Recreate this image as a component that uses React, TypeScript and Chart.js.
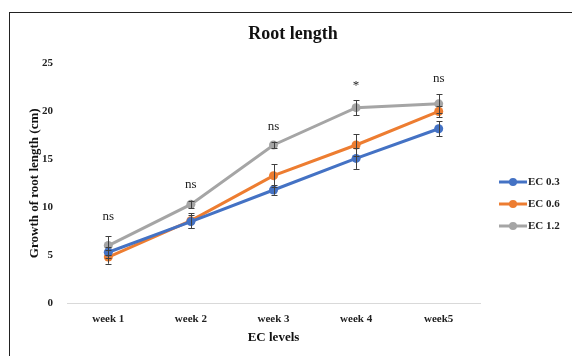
import React, { useEffect, useRef } from "react";
import { Chart, registerables } from "chart.js";

Chart.register(...registerables);

const categories = ["week 1", "week 2", "week 3", "week 4", "week5"];
const seriesNames = ["EC 0.3", "EC 0.6", "EC 1.2"];
const ec03 = [5.3, 8.5, 11.8, 15.1, 18.2];
const ec06 = [4.8, 8.6, 13.3, 16.5, 20.0];
const ec12 = [6.0, 10.3, 16.5, 20.4, 20.8];
const ec03Err = [0.6, 0.7, 0.5, 1.1, 0.8];
const ec06Err = [0.7, 0.8, 1.2, 1.1, 0.6];
const ec12Err = [0.95, 0.4, 0.35, 0.8, 1.0];
const sigLabels = ["ns", "ns", "ns", "*", "ns"];
const sigValues = [9.0, 12.4, 18.4, 22.7, 23.4];
const colors = ["#4472C4", "#ED7D31", "#A5A5A5"];
const yTicks = [0, 5, 10, 15, 20, 25];

const SERIF = "'Liberation Serif', 'Times New Roman', serif";

const errorBars = {
  id: "errorBars",
  afterDatasetsDraw(chart: any) {
    const ctx = chart.ctx;
    const ys = chart.scales.y;
    const errs = [ec03Err, ec06Err, ec12Err];
    ctx.save();
    ctx.strokeStyle = "#404040";
    ctx.lineWidth = 1;
    chart.data.datasets.forEach((ds: any, di: number) => {
      const meta = chart.getDatasetMeta(di);
      meta.data.forEach((pt: any, i: number) => {
        const v = ds.data[i];
        const e = errs[di][i];
        const x = Math.round(pt.x) + 0.5;
        const y1 = ys.getPixelForValue(v + e);
        const y2 = ys.getPixelForValue(v - e);
        ctx.beginPath();
        ctx.moveTo(x, y1);
        ctx.lineTo(x, y2);
        ctx.moveTo(x - 3, Math.round(y1) + 0.5);
        ctx.lineTo(x + 3, Math.round(y1) + 0.5);
        ctx.moveTo(x - 3, Math.round(y2) + 0.5);
        ctx.lineTo(x + 3, Math.round(y2) + 0.5);
        ctx.stroke();
      });
    });
    // significance labels
    const xs = chart.scales.x;
    ctx.fillStyle = "#222";
    ctx.font = `13px ${SERIF}`;
    ctx.textAlign = "center";
    ctx.textBaseline = "middle";
    sigLabels.forEach((t, i) => {
      ctx.fillText(t, xs.getPixelForValue(i), ys.getPixelForValue(sigValues[i]));
    });
    // legend
    const lx = 499;
    const rowY = [182, 204, 226];
    chart.data.datasets.forEach((ds: any, di: number) => {
      const y = rowY[di];
      ctx.strokeStyle = ds.borderColor;
      ctx.lineWidth = 3;
      ctx.beginPath();
      ctx.moveTo(lx, y);
      ctx.lineTo(lx + 28, y);
      ctx.stroke();
      ctx.fillStyle = ds.borderColor;
      ctx.beginPath();
      ctx.arc(lx + 14, y, 4, 0, Math.PI * 2);
      ctx.fill();
      ctx.fillStyle = "#222";
      ctx.font = `bold 11px ${SERIF}`;
      ctx.textAlign = "left";
      ctx.fillText(ds.label, lx + 29, y + 0.5);
    });
    ctx.restore();
  },
};

export default function App() {
  const ref = useRef<HTMLCanvasElement>(null);
  useEffect(() => {
    if (!ref.current) return;
    const values = [ec03, ec06, ec12];
    const chart = new Chart(ref.current, {
      type: "line",
      data: {
        labels: categories,
        datasets: seriesNames.map((n, i) => ({
          label: n,
          data: values[i],
          borderColor: colors[i],
          backgroundColor: colors[i],
          borderWidth: 3,
          pointRadius: 4.5,
          pointHoverRadius: 4.5,
          pointBackgroundColor: colors[i],
          pointBorderWidth: 0,
          tension: 0,
        })),
      },
      options: {
        responsive: false,
        animation: false,
        layout: { padding: { top: 0, right: 0, left: 14, bottom: 0 } },
        plugins: {
          legend: { display: false },
          tooltip: { enabled: false },
          title: {
            display: true,
            text: "Root length",
            color: "#111",
            font: { family: SERIF, size: 18, weight: "bold" },
            padding: { top: 24, bottom: 18 },
          },
        },
        scales: {
          x: {
            offset: true,
            grid: { display: false, drawTicks: false },
            border: { display: true, color: "#D9D9D9", width: 1 },
            ticks: {
              color: "#222",
              font: { family: SERIF, size: 11, weight: "bold" },
              padding: 10,
            },
            title: {
              display: true,
              text: "EC levels",
              color: "#111",
              font: { family: SERIF, size: 13, weight: "bold" },
              padding: { top: 0, bottom: 11 },
            },
            afterFit: (s: any) => {
              s.height = 53;
            },
          },
          y: {
            min: 0,
            max: 25,
            afterBuildTicks: (s: any) => {
              s.ticks = yTicks.map((v) => ({ value: v }));
            },
            grid: { display: false, drawTicks: false },
            border: { display: false },
            ticks: {
              color: "#222",
              font: { family: SERIF, size: 11, weight: "bold" },
              padding: 14,
            },
            title: {
              display: true,
              text: "Growth of root length (cm)",
              color: "#111",
              font: { family: SERIF, size: 13, weight: "bold" },
              padding: { top: 13, bottom: 0 },
            },
            afterFit: (s: any) => {
              s.width = 53;
            },
          },
          yRight: {
            position: "right",
            display: true,
            min: 0,
            max: 25,
            grid: { display: false, drawTicks: false },
            border: { display: false },
            ticks: { display: false },
            afterFit: (s: any) => {
              s.width = 92;
            },
          },
        },
      },
      plugins: [errorBars],
    });
    return () => chart.destroy();
  }, []);
  return (
    <div style={{ position: "fixed", left: 0, top: 0, width: 572, height: 356, background: "#fff", overflow: "hidden" }}>
      <div
        style={{
          position: "absolute",
          left: 9,
          top: 12,
          width: 620,
          height: 343,
          borderTop: "1.5px solid #222",
          borderLeft: "1.5px solid #222",
        }}
      />
      <canvas ref={ref} width={572} height={356} style={{ position: "absolute", left: 0, top: 0 }} />
    </div>
  );
}
